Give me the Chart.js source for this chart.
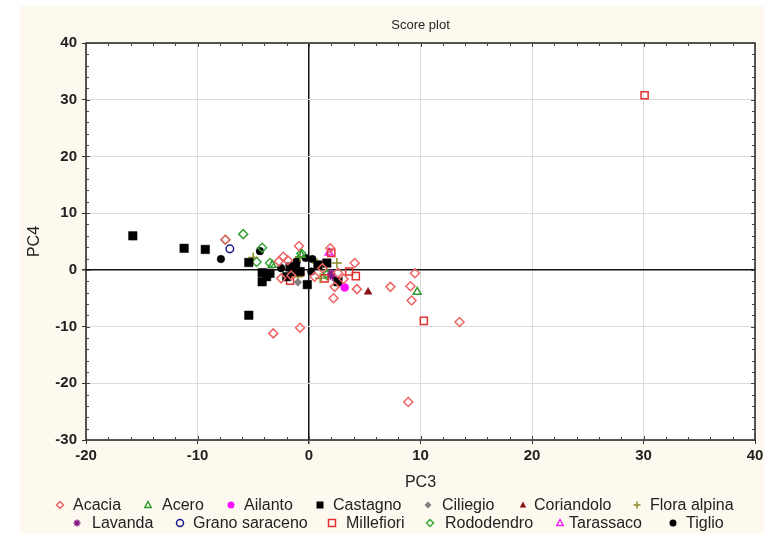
<!DOCTYPE html>
<html>
<head>
<meta charset="utf-8">
<script src="https://cdn.jsdelivr.net/npm/chart.js@4/dist/chart.umd.min.js"></script>
<style>
  html, body { margin: 0; padding: 0; background: #ffffff; }
  #wrap { width: 764px; height: 534px; }
</style>
</head>
<body>
<div id="wrap"><canvas id="c" width="764" height="534"></canvas></div>
<script>
// Score plot: PC3 vs PC4, one series per honey type
const chartTitle = 'Score plot';
const xTitle = 'PC3';
const yTitle = 'PC4';
const xTicks = [-20, -10, 0, 10, 20, 30, 40];
const yTicks = [-30, -20, -10, 0, 10, 20, 30, 40];

const acacia = [[-7.5,5.3],[-2.7,1.5],[-2.3,2.3],[-1.9,1.7],[-0.9,4.2],[-1.6,-1.0],[0.5,-1.2],[1.9,3.8],
  [4.1,1.2],[4.3,-3.4],[2.3,-3.0],[2.2,-5.0],[7.3,-3.0],[9.5,-0.6],[9.1,-2.9],[9.2,-5.4],[13.5,-9.2],
  [8.9,-23.3],[-3.2,-11.2],[-0.8,-10.2],[2.6,-0.5],[3.1,-1.6],[-2.5,-1.5],[1.2,0.3]];
const acero = [[-3.3,0.85],[9.7,-3.9],[-0.7,2.6]];
const ailanto = [[3.2,-3.1]];
const castagno = [[-15.8,6.0],[-11.2,3.8],[-9.3,3.6],[-5.4,1.3],[-5.4,-8.0],[-4.2,-0.5],[-3.8,-1.2],
  [-4.2,-2.1],[-3.5,-0.6],[-1.7,0.5],[-2.0,-1.2],[-0.8,-0.3],[-0.15,-2.6],[0.8,0.85],[1.6,1.2],[2.6,-2.1],[-1.2,0.6]];
const ciliegio = [[-1.0,-2.2]];
const coriandolo = [[5.3,-3.9]];
const floraAlpina = [[-5.0,2.2],[-0.8,2.3],[0.7,1.2],[2.5,1.2],[1.0,-1.5],[-1.0,-1.2],[0.9,0.85]];
const lavanda = [[2.1,-1.2],[2.0,-0.6]];
const granoSaraceno = [[-7.1,3.7]];
const millefiori = [[30.1,30.8],[10.3,-9.0],[3.6,-0.3],[4.2,-1.1],[2.0,3.0],[1.4,-1.5],[-1.7,-1.9],[-0.8,-0.4]];
const rododendro = [[-7.5,5.3],[-5.9,6.3],[-4.2,3.9],[-4.7,1.4],[-3.5,1.2],[-0.7,2.9],[1.6,-0.6],[1.6,-0.9]];
const tarassaco = [[1.8,3.0],[2.0,-0.9]];
const tiglio = [[-7.9,1.9],[-4.4,3.3],[-2.5,0.3],[-1.1,1.5],[-0.3,2.1],[0.3,1.9],[0.2,-0.3],[-1.5,-0.5]];

const series = [
  { label: 'Acacia', data: acacia, style: 'rectRot', color: '#ee6464', fill: false, r: 4.5 },
  { label: 'Acero', data: acero, style: 'triangle', color: '#2e9a2e', fill: false, r: 4.5 },
  { label: 'Ailanto', data: ailanto, style: 'circle', color: '#ff10ff', fill: true, r: 4 },
  { label: 'Castagno', data: castagno, style: 'rect', color: '#000000', fill: true, r: 6 },
  { label: 'Ciliegio', data: ciliegio, style: 'rectRot', color: '#808080', fill: true, r: 4 },
  { label: 'Coriandolo', data: coriandolo, style: 'triangle', color: '#8b1010', fill: true, r: 4.5 },
  { label: 'Flora alpina', data: floraAlpina, style: 'cross', color: '#8c8c28', fill: false, r: 5 },
  { label: 'Lavanda', data: lavanda, style: 'star', color: '#8a1a8a', fill: false, r: 4 },
  { label: 'Grano saraceno', data: granoSaraceno, style: 'circle', color: '#1a1a8a', fill: false, r: 3.8 },
  { label: 'Millefiori', data: millefiori, style: 'rect', color: '#e03030', fill: false, r: 5 },
  { label: 'Rododendro', data: rododendro, style: 'rectRot', color: '#3aa63a', fill: false, r: 4.5 },
  { label: 'Tarassaco', data: tarassaco, style: 'triangle', color: '#f020f0', fill: false, r: 4.5 },
  { label: 'Tiglio', data: tiglio, style: 'circle', color: '#000000', fill: true, r: 3.8 }
];

// legend slots: [marker x, text x, row y]
const legendSlots = [
  [60, 73, 505], [148, 162, 505], [231, 244, 505], [320, 333, 505], [428, 442, 505], [523, 534, 505], [637, 650, 505],
  [77, 92, 523], [180, 193, 523], [332, 346, 523], [430, 445, 523], [560, 569, 523], [673, 686, 523]
];

const FONT = '"Liberation Sans", Arial, sans-serif';

function drawMarker(ctx, s, x, y, r) {
  ctx.save();
  ctx.strokeStyle = s.color;
  ctx.fillStyle = s.color;
  ctx.lineWidth = 1.5;
  ctx.beginPath();
  if (s.style === 'circle') {
    ctx.arc(x, y, r, 0, Math.PI * 2);
  } else if (s.style === 'rect') {
    ctx.rect(x - r, y - r, 2 * r, 2 * r);
  } else if (s.style === 'rectRot') {
    ctx.moveTo(x, y - r); ctx.lineTo(x + r, y); ctx.lineTo(x, y + r); ctx.lineTo(x - r, y); ctx.closePath();
  } else if (s.style === 'triangle') {
    ctx.moveTo(x, y - r); ctx.lineTo(x + r * 0.9, y + r * 0.7); ctx.lineTo(x - r * 0.9, y + r * 0.7); ctx.closePath();
  } else if (s.style === 'cross') {
    ctx.moveTo(x - r, y); ctx.lineTo(x + r, y); ctx.moveTo(x, y - r); ctx.lineTo(x, y + r);
  } else if (s.style === 'star') {
    ctx.moveTo(x - r, y); ctx.lineTo(x + r, y); ctx.moveTo(x, y - r); ctx.lineTo(x, y + r);
    const d = r * 0.7;
    ctx.moveTo(x - d, y - d); ctx.lineTo(x + d, y + d); ctx.moveTo(x - d, y + d); ctx.lineTo(x + d, y - d);
  }
  if (s.fill) ctx.fill(); else ctx.stroke();
  ctx.restore();
}

const decor = {
  id: 'decor',
  beforeDraw(chart) {
    const { ctx, chartArea: a } = chart;
    ctx.save();
    ctx.fillStyle = '#ffffff';
    ctx.fillRect(0, 0, chart.width, chart.height);
    ctx.fillStyle = '#fdf9ef';
    ctx.fillRect(20, 6, chart.width - 20, chart.height - 6);
    ctx.fillStyle = '#ffffff';
    ctx.fillRect(a.left, a.top, a.right - a.left, a.bottom - a.top);
    ctx.restore();
  },
  afterDraw(chart) {
    const { ctx, chartArea: a, scales } = chart;
    const xs = scales.x, ys = scales.y;
    ctx.save();
    // frame
    ctx.strokeStyle = '#222';
    ctx.lineWidth = 1.5;
    ctx.strokeRect(a.left, a.top, a.right - a.left, a.bottom - a.top);
    // inward ticks on all four sides (minor every 2, major every 10)
    ctx.lineWidth = 1;
    ctx.strokeStyle = '#444';
    ctx.beginPath();
    for (let v = -20; v <= 40; v += 2) {
      const px = Math.round(xs.getPixelForValue(v)) + 0.5;
      const len = v % 10 === 0 ? 4 : 3;
      ctx.moveTo(px, a.bottom); ctx.lineTo(px, a.bottom - len);
      ctx.moveTo(px, a.top); ctx.lineTo(px, a.top + len);
    }
    for (let v = -30; v <= 40; v += 2) {
      const py = Math.round(ys.getPixelForValue(v)) + 0.5;
      const len = v % 10 === 0 ? 4 : 3;
      ctx.moveTo(a.left, py); ctx.lineTo(a.left + len, py);
      ctx.moveTo(a.right, py); ctx.lineTo(a.right - len, py);
    }
    ctx.stroke();

    // titles
    ctx.fillStyle = '#222';
    ctx.textAlign = 'center';
    ctx.textBaseline = 'middle';
    ctx.font = '13px ' + FONT;
    ctx.fillText(chartTitle, (a.left + a.right) / 2, 25);
    ctx.font = '16px ' + FONT;
    ctx.fillText(xTitle, (a.left + a.right) / 2, 483);
    ctx.save();
    ctx.translate(35, (a.top + a.bottom) / 2);
    ctx.rotate(-Math.PI / 2);
    ctx.fillText(yTitle, 0, 0);
    ctx.restore();

    // legend
    ctx.font = '16px ' + FONT;
    ctx.textAlign = 'left';
    series.forEach((s, i) => {
      const [mx, tx, ly] = legendSlots[i];
      drawMarker(ctx, s, mx, ly, 3.5);
      ctx.fillStyle = '#222';
      ctx.fillText(s.label, tx, ly + 1);
    });
    ctx.restore();
  }
};

const datasets = series.map(s => ({
  label: s.label,
  data: s.data.map(p => ({ x: p[0], y: p[1] })),
  pointStyle: s.style,
  pointRadius: s.r,
  pointHoverRadius: s.r,
  borderColor: s.color,
  backgroundColor: s.fill ? s.color : 'rgba(0,0,0,0)',
  pointBorderWidth: s.fill ? 0.5 : 1.5,
  borderWidth: s.fill ? 0.5 : 1.5
}));

function gridColor(ctx) {
  return ctx.tick && ctx.tick.value === 0 ? '#111111' : '#dcdcdc';
}
function gridWidth(ctx) {
  return ctx.tick && ctx.tick.value === 0 ? 1.5 : 1;
}

new Chart(document.getElementById('c'), {
  type: 'scatter',
  data: { datasets },
  plugins: [decor],
  options: {
    responsive: false,
    animation: false,
    clip: false,
    layout: { padding: { top: 43, right: 9, left: 0, bottom: 0 } },
    plugins: { legend: { display: false }, title: { display: false }, tooltip: { enabled: false } },
    scales: {
      x: {
        type: 'linear', min: xTicks[0], max: xTicks[xTicks.length - 1],
        afterBuildTicks: sc => { sc.ticks = xTicks.map(v => ({ value: v })); },
        afterFit: sc => { sc.height = 94; sc.paddingLeft = 0; sc.paddingRight = 0; },
        border: { display: false },
        grid: { color: gridColor, lineWidth: gridWidth, tickLength: 4, tickColor: '#333', drawTicks: true },
        ticks: { color: '#222', padding: 3, font: { family: FONT, size: 15, weight: 'bold' }, maxRotation: 0 }
      },
      y: {
        type: 'linear', min: yTicks[0], max: yTicks[yTicks.length - 1],
        afterBuildTicks: sc => { sc.ticks = yTicks.map(v => ({ value: v })); },
        afterFit: sc => { sc.width = 86; sc.paddingTop = 0; sc.paddingBottom = 0; },
        border: { display: false },
        grid: { color: gridColor, lineWidth: gridWidth, tickLength: 4, tickColor: '#333', drawTicks: true },
        ticks: { color: '#222', padding: 5, font: { family: FONT, size: 15, weight: 'bold' } }
      }
    }
  }
});
</script>
</body>
</html>
